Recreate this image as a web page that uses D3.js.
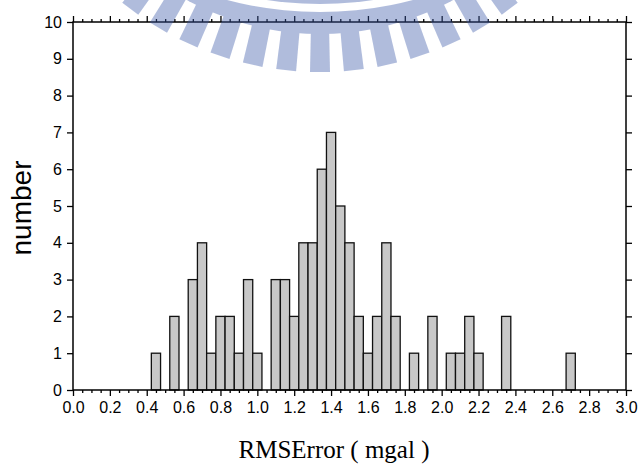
<!DOCTYPE html>
<html>
<head>
<meta charset="utf-8">
<script src="https://cdn.jsdelivr.net/npm/d3@7"></script>
<style>
  body { margin: 0; background: #fff; }
  svg { display: block; }
  .tick text { font-family: "Liberation Sans", Arial, sans-serif; font-size: 16px; fill: #000; }
  .tick line { stroke: #000; stroke-width: 1.3; }
</style>
</head>
<body>
<div id="chart"></div>
<script>
// histogram of RMS error, bins 0.05 wide centred on the bin value
const binCenters = [0.45, 0.50, 0.55, 0.60, 0.65, 0.70, 0.75, 0.80, 0.85, 0.90,
  0.95, 1.00, 1.05, 1.10, 1.15, 1.20, 1.25, 1.30, 1.35, 1.40,
  1.45, 1.50, 1.55, 1.60, 1.65, 1.70, 1.75, 1.80, 1.85, 1.90,
  1.95, 2.00, 2.05, 2.10, 2.15, 2.20, 2.25, 2.30, 2.35, 2.40,
  2.45, 2.50, 2.55, 2.60, 2.65, 2.70];
const counts = [1, 0, 2, 0, 3, 4, 1, 2, 2, 1,
  3, 1, 0, 3, 3, 2, 4, 4, 6, 7,
  5, 4, 2, 1, 2, 4, 2, 0, 1, 0,
  2, 0, 1, 1, 2, 1, 0, 0, 2, 0,
  0, 0, 0, 0, 0, 1];
const binWidth = 0.05;
const xMajorTicks = [0.0, 0.2, 0.4, 0.6, 0.8, 1.0, 1.2, 1.4, 1.6, 1.8, 2.0, 2.2, 2.4, 2.6, 2.8, 3.0];
const yTicks = [0, 1, 2, 3, 4, 5, 6, 7, 8, 9, 10];
const xTitle = "RMSError ( mgal )";
const yTitle = "number";

const W = 641, H = 468;
const plot = {left: 73, right: 626, top: 22, bottom: 390};

const data = binCenters.map((c, i) => ({center: c, count: counts[i]})).filter(d => d.count > 0);

const svg = d3.select("#chart").append("svg")
  .attr("width", W)
  .attr("height", H);

const x = d3.scaleLinear().domain([0, 3]).range([plot.left, plot.right]);
const y = d3.scaleLinear().domain([0, 10]).range([plot.bottom, plot.top]);

const minorTicks = d3.range(0, 61).map(i => i * binWidth).filter(v => Math.abs(v * 5 - Math.round(v * 5)) > 1e-6);

// bars
svg.append("g").selectAll("rect")
  .data(data)
  .enter().append("rect")
  .attr("x", d => x(d.center - binWidth / 2))
  .attr("y", d => y(d.count))
  .attr("width", d => x(d.center + binWidth / 2) - x(d.center - binWidth / 2))
  .attr("height", d => y(0) - y(d.count))
  .style("fill", "#c8c8c8")
  .style("stroke", "#111")
  .style("stroke-width", 1.3);

// bottom axis, major + minor
svg.append("g")
  .attr("transform", "translate(0," + plot.bottom + ")")
  .call(d3.axisBottom(x).tickValues(xMajorTicks).tickSize(6).tickSizeOuter(0).tickPadding(6).tickFormat(d3.format(".1f")))
  .call(g => g.select(".domain").remove());
svg.append("g")
  .attr("transform", "translate(0," + plot.bottom + ")")
  .call(d3.axisBottom(x).tickValues(minorTicks).tickSize(3).tickSizeOuter(0).tickFormat(""))
  .call(g => g.select(".domain").remove());

// top axis, ticks only
svg.append("g")
  .attr("transform", "translate(0," + plot.top + ")")
  .call(d3.axisTop(x).tickValues(xMajorTicks).tickSize(6).tickSizeOuter(0).tickFormat(""))
  .call(g => g.select(".domain").remove());
svg.append("g")
  .attr("transform", "translate(0," + plot.top + ")")
  .call(d3.axisTop(x).tickValues(minorTicks).tickSize(3).tickSizeOuter(0).tickFormat(""))
  .call(g => g.select(".domain").remove());

// left and right axes
svg.append("g")
  .attr("transform", "translate(" + plot.left + ",0)")
  .call(d3.axisLeft(y).tickValues(yTicks).tickSize(6).tickSizeOuter(0).tickPadding(5).tickFormat(d3.format("d")))
  .call(g => g.select(".domain").remove());
svg.append("g")
  .attr("transform", "translate(" + plot.right + ",0)")
  .call(d3.axisRight(y).tickValues(yTicks).tickSize(6).tickSizeOuter(0).tickFormat(""))
  .call(g => g.select(".domain").remove());

// frame
svg.append("rect")
  .attr("x", plot.left)
  .attr("y", plot.top)
  .attr("width", plot.right - plot.left)
  .attr("height", plot.bottom - plot.top)
  .style("fill", "none")
  .style("stroke", "#000")
  .style("stroke-width", 1.5);

// titles
svg.append("text")
  .attr("transform", "translate(31," + ((plot.top + plot.bottom) / 2 + 2) + ") rotate(-90)")
  .attr("text-anchor", "middle")
  .style("font-family", "Liberation Sans, Arial, sans-serif")
  .style("font-size", "28px")
  .text(yTitle);

svg.append("text")
  .attr("x", 334)
  .attr("y", 458)
  .attr("text-anchor", "middle")
  .style("font-family", "Liberation Serif, Times New Roman, serif")
  .style("font-size", "25px")
  .text(xTitle);

// watermark logo (faint, on top)
const logo = svg.append("g").style("opacity", 0.4).style("fill", "rgb(60,90,170)");
const cx = 320, cy = -244;
const mask = svg.append("defs").append("mask").attr("id", "bandMask");
mask.append("rect").attr("x", 0).attr("y", -800).attr("width", W).attr("height", 900).style("fill", "#000");
mask.append("circle").attr("cx", cx).attr("cy", cy).attr("r", 278).style("fill", "#fff");
mask.append("circle").attr("cx", cx).attr("cy", -354).attr("r", 366).style("fill", "#000");
logo.append("rect").attr("x", 0).attr("y", -600).attr("width", W).attr("height", 700)
  .attr("mask", "url(#bandMask)");
logo.append("circle").attr("cx", cx).attr("cy", -354).attr("r", 358);
d3.range(-6, 7).forEach(i => {
  const a = i * 6.15 * Math.PI / 180;
  const dx = Math.sin(a), dy = Math.cos(a), nx = Math.cos(a), ny = -Math.sin(a);
  const pt = (r, w) => [cx + r * dx + w * nx, cy + r * dy + w * ny];
  const pts = [pt(268, -9), pt(316, -10), pt(316, 10), pt(268, 9)];
  logo.append("path").attr("d", "M" + pts.map(p => p.join(",")).join("L") + "Z");
});
</script>
</body>
</html>
